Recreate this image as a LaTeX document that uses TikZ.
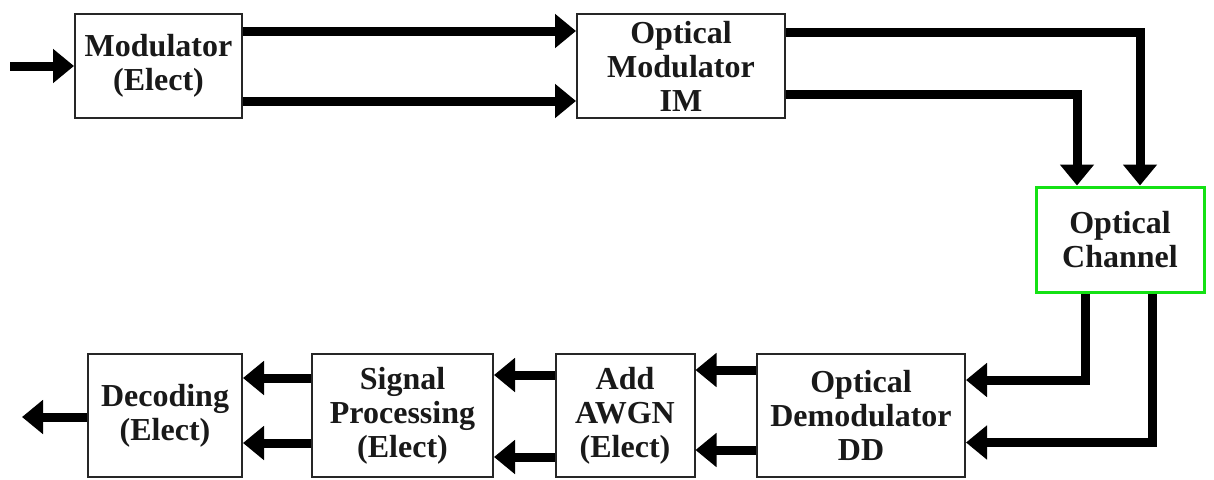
\documentclass[tikz,border=0pt]{standalone}
\usepackage{fontspec}
\setmainfont{Liberation Serif}
\usetikzlibrary{arrows.meta,calc}
\definecolor{chgreen}{RGB}{20,225,20}
\tikzset{
  blk/.style={draw=black!85, line width=2pt, inner sep=0pt, align=center,
    font=\fontsize{32}{34}\selectfont\bfseries, text=black!90},
  arr/.style={line width=9pt, -{Triangle[length=21pt,width=33pt]}, black}
}
\begin{document}
\begin{tikzpicture}[x=1pt,y=-1pt]
\useasboundingbox (0,0) rectangle (1214,479);
\fill[white] (0,0) rectangle (1214,479);
% boxes
\node[blk, minimum width=167pt, minimum height=104pt] (mod) at (158.5,66) {Modulator\\(Elect)};
\node[blk, minimum width=208pt, minimum height=104pt] (om) at (681,66) {Optical\\Modulator\\IM};
\node[blk, draw=chgreen, line width=3pt, minimum width=168pt, minimum height=105pt] (ch) at (1120,239.5) {Optical\\Channel};
\node[blk, minimum width=208pt, minimum height=123pt] (od) at (861,415.5) {Optical\\Demodulator\\DD};
\node[blk, minimum width=139pt, minimum height=123pt] (awgn) at (625,415.5) {Add\\AWGN\\(Elect)};
\node[blk, minimum width=181pt, minimum height=123pt] (sp) at (402.5,415.5) {Signal\\Processing\\(Elect)};
\node[blk, minimum width=154pt, minimum height=123pt] (dec) at (165,415.5) {Decoding\\(Elect)};
\coordinate (in) at (10,66);
\coordinate (out) at (22,417);
% connectors
\draw[arr] (in) -- (mod.west);
\draw[arr] ([yshift=35pt]mod.east) -- ([yshift=35pt]om.west);
\draw[arr] ([yshift=-35pt]mod.east) -- ([yshift=-35pt]om.west);
\draw[arr] ([yshift=34pt]om.east) -| ([xshift=20pt]ch.north);
\draw[arr] ([yshift=-28pt]om.east) -| ([xshift=-43pt]ch.north);
\draw[arr] ([xshift=-35pt]ch.south) |- ([yshift=35.5pt]od.east);
\draw[arr] ([xshift=32pt]ch.south) |- ([yshift=-27pt]od.east);
\draw[arr] ([yshift=45.5pt]od.west) -- ([yshift=45.5pt]awgn.east);
\draw[arr] ([yshift=-34.5pt]od.west) -- ([yshift=-34.5pt]awgn.east);
\draw[arr] ([yshift=40.5pt]awgn.west) -- ([yshift=40.5pt]sp.east);
\draw[arr] ([yshift=-41.5pt]awgn.west) -- ([yshift=-41.5pt]sp.east);
\draw[arr] ([yshift=37.5pt]sp.west) -- ([yshift=37.5pt]dec.east);
\draw[arr] ([yshift=-27.5pt]sp.west) -- ([yshift=-27.5pt]dec.east);
\draw[arr] (dec.west |- out) -- (out);
\end{tikzpicture}
\end{document}
